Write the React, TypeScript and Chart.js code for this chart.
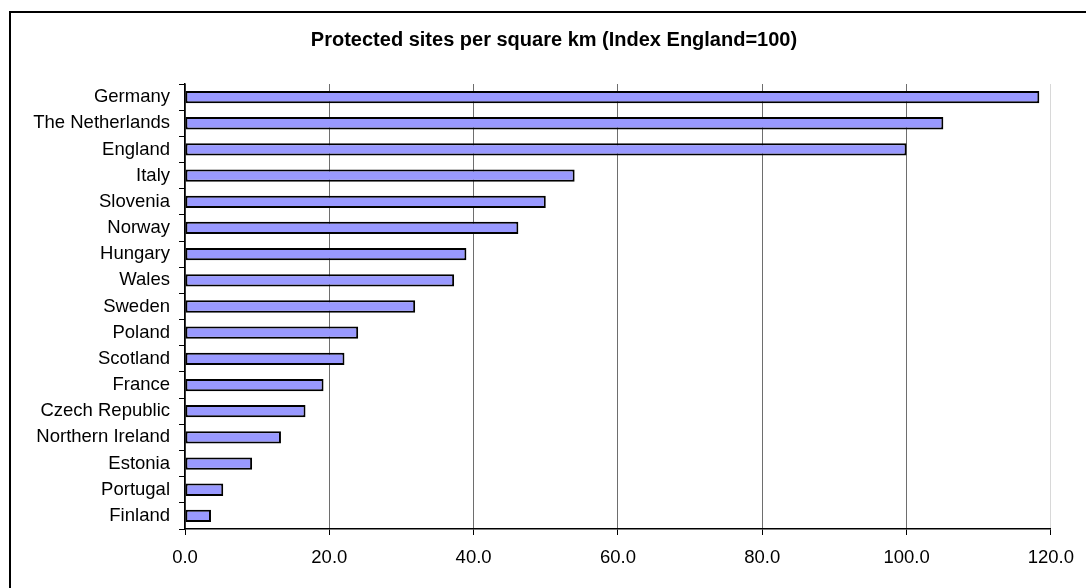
import React, { useEffect, useRef } from "react";
import { Chart, registerables } from "chart.js";

Chart.register(...registerables);

const categories: string[] = [
  "Germany",
  "The Netherlands",
  "England",
  "Italy",
  "Slovenia",
  "Norway",
  "Hungary",
  "Wales",
  "Sweden",
  "Poland",
  "Scotland",
  "France",
  "Czech Republic",
  "Northern Ireland",
  "Estonia",
  "Portugal",
  "Finland",
];

const indexValues: number[] = [
  118.4, 105.1, 100.0, 54.0, 50.0, 46.2, 39.0, 37.3, 31.9, 24.0, 22.1, 19.2,
  16.7, 13.3, 9.3, 5.3, 3.6,
];

const xTickMin = 0;
const xTickMax = 120;
const xTickStep = 20;

const titleText = "Protected sites per square km (Index England=100)";

const FONT = "'Liberation Sans', Arial, sans-serif";

const titlePlugin = {
  id: "frameTitle",
  afterDraw(chart: any) {
    const ctx = chart.ctx;
    ctx.save();
    ctx.font = `bold 20px ${FONT}`;
    ctx.fillStyle = "#000000";
    ctx.textAlign = "center";
    ctx.textBaseline = "middle";
    ctx.fillText(titleText, 554, 40.5);
    ctx.restore();
  },
};

export default function App() {
  const canvasRef = useRef<HTMLCanvasElement | null>(null);

  useEffect(() => {
    const canvas = canvasRef.current;
    if (!canvas) return;
    const chart = new Chart(canvas, {
      type: "bar",
      data: {
        labels: categories,
        datasets: [
          {
            data: indexValues,
            backgroundColor: "#9999FF",
            borderColor: "#000000",
            borderWidth: 2,
            borderSkipped: false,
            categoryPercentage: 1,
            barPercentage: 0.47,
          },
        ],
      },
      plugins: [titlePlugin],
      options: {
        indexAxis: "y",
        responsive: false,
        animation: false,
        layout: {
          padding: { left: 0, right: 32.5, top: 84, bottom: 0 },
        },
        plugins: {
          legend: { display: false },
          tooltip: { enabled: false },
          title: { display: false },
        },
        scales: {
          x: {
            type: "linear",
            position: "bottom",
            min: xTickMin,
            max: xTickMax,
            afterFit: (scale: any) => {
              scale.height = 59;
            },
            ticks: {
              stepSize: xTickStep,
              color: "#000000",
              padding: 12,
              font: { family: FONT, size: 18.5 },
              callback: (v: any) => Number(v).toFixed(1),
            },
            grid: {
              color: (ctx: any) =>
                ctx.tick && ctx.tick.value === xTickMax ? "#d8d8d8" : "#6e6e6e",
              lineWidth: 1,
              tickColor: "#000000",
              tickLength: 6,
              drawTicks: true,
            },
            border: { display: true, color: "#000000", width: 1.5 },
          },
          y: {
            type: "category",
            afterFit: (scale: any) => {
              scale.width = 185;
            },
            ticks: {
              color: "#000000",
              padding: 9,
              autoSkip: false,
              font: { family: FONT, size: 18.5 },
            },
            grid: {
              offset: true,
              drawOnChartArea: false,
              drawTicks: true,
              tickLength: 6,
              color: "#000000",
              tickColor: "#000000",
              lineWidth: 1,
            },
            border: { display: true, color: "#000000", width: 1.5 },
          },
        },
      },
    });
    return () => chart.destroy();
  }, []);

  return (
    <div
      style={{
        position: "fixed",
        left: 0,
        top: 0,
        width: 1086,
        height: 588,
        overflow: "hidden",
        background: "#ffffff",
      }}
    >
      <div
        style={{
          position: "absolute",
          left: 9,
          top: 11,
          width: 1200,
          height: 800,
          border: "2px solid #000000",
          boxSizing: "border-box",
        }}
      />
      <canvas
        ref={canvasRef}
        width={1086}
        height={588}
        style={{ position: "absolute", left: 0, top: 0, width: 1086, height: 588 }}
      />
    </div>
  );
}
